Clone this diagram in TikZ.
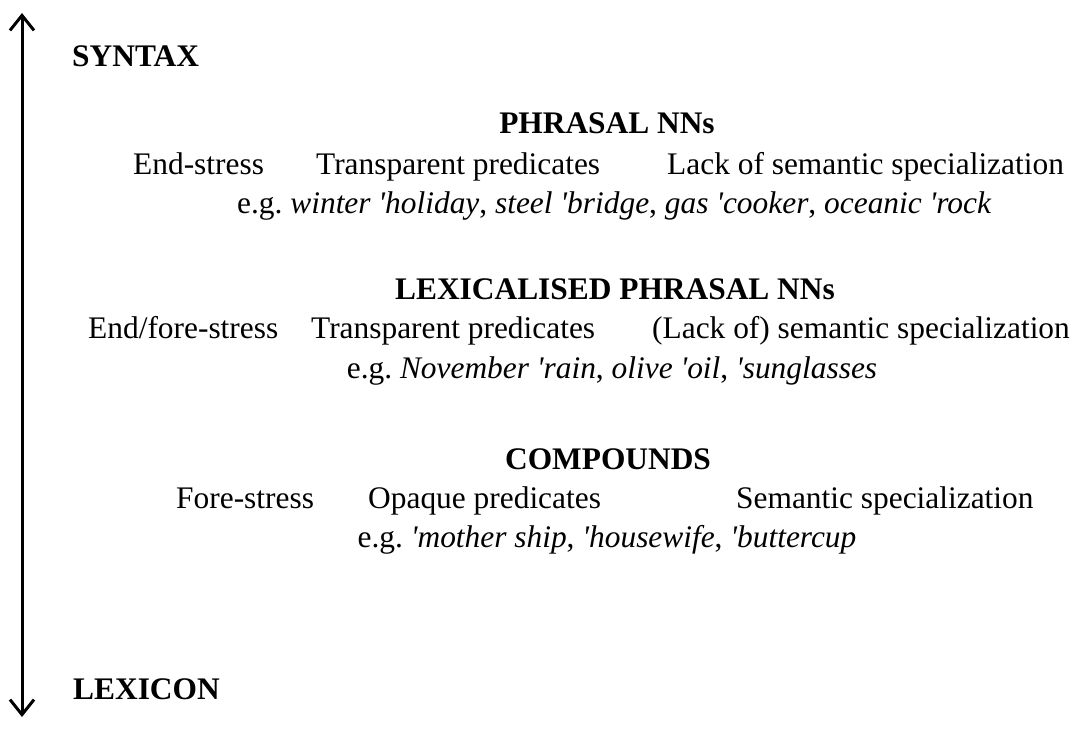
\documentclass[tikz,border=0pt]{standalone}
\usepackage{fontspec}
\newfontfamily\tnr{Liberation Serif}
\usetikzlibrary{arrows.meta}
\begin{document}
\begin{tikzpicture}[x=1pt,y=-1pt,
  txt/.style={inner sep=0pt, anchor=base west, font=\tnr\fontsize{31.4}{38}\selectfont},
  ctxt/.style={txt, anchor=base},
  head/.style={inner sep=0pt, anchor=base, font=\tnr\bfseries\fontsize{31.4}{38}\selectfont},
  lhead/.style={head, anchor=base west},
  tip/.style={Straight Barb[length=15pt,width=24pt,line width=3pt]},
  axis/.style={line width=3pt, {Straight Barb[length=15pt,width=24pt,line width=3pt]}-{Straight Barb[length=15pt,width=24pt,line width=3pt]}}]
\useasboundingbox (0,0) rectangle (1082,729);
\coordinate (top) at (22,13);
\coordinate (bot) at (22,717);
\draw[axis] (top) -- (bot);
\node[lhead] (syntax) at (72,66) {SYNTAX};
\node[head] (phr) at (607,133) {PHRASAL NNs};
\node[txt] (r1a) at (133,174) {End-stress};
\node[txt] (r1b) at (316,174) {Transparent predicates};
\node[txt] (r1c) at (667,174) {Lack of semantic specialization};
\node[txt] (eg1) at (237,213) {e.g.\ \textit{winter 'holiday}, \textit{steel 'bridge}, \textit{gas 'cooker}, \textit{oceanic 'rock}};
\node[head] (lphr) at (615,299) {LEXICALISED PHRASAL NNs};
\node[txt] (r2a) at (88,338) {End/fore-stress};
\node[txt] (r2b) at (311,338) {Transparent predicates};
\node[txt] (r2c) at (652,338) {(Lack of) semantic specialization};
\node[ctxt] (eg2) at (612,378) {e.g.\ \textit{November 'rain}, \textit{olive 'oil}, \textit{'sunglasses}};
\node[head] (comp) at (608,469) {COMPOUNDS};
\node[txt] (r3a) at (176,508) {Fore-stress};
\node[txt] (r3b) at (368,508) {Opaque predicates};
\node[txt] (r3c) at (736,508) {Semantic specialization};
\node[ctxt] (eg3) at (607,547) {e.g.\ \textit{'mother ship}, \textit{'housewife}, \textit{'buttercup}};
\node[lhead] (lex) at (73,699) {LEXICON};
\end{tikzpicture}
\end{document}
